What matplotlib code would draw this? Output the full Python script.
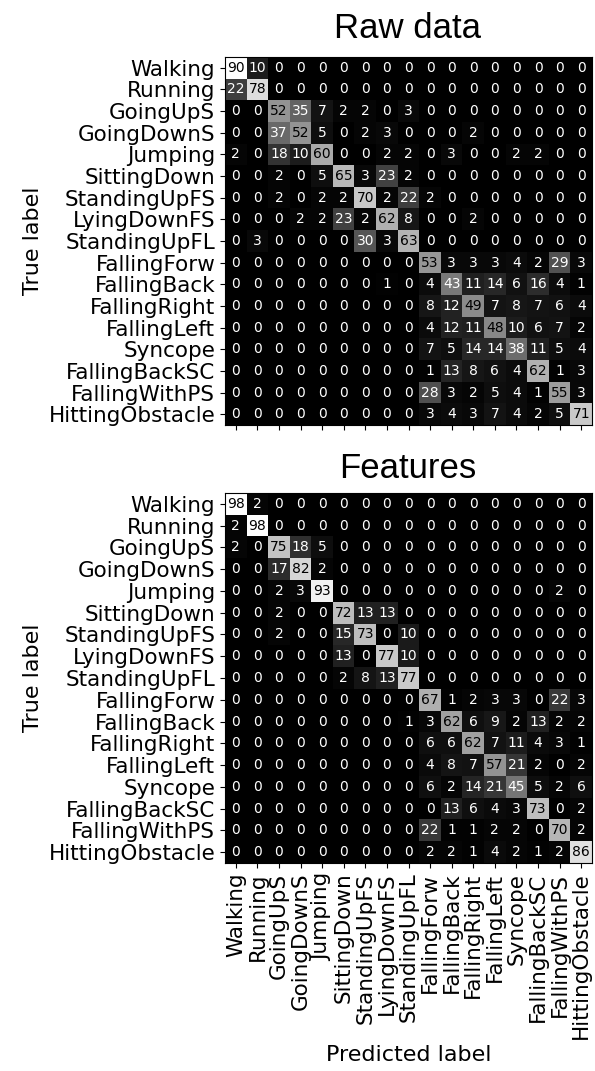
import matplotlib
matplotlib.use("Agg")
import matplotlib.pyplot as plt
import numpy as np

labels = ["Walking", "Running", "GoingUpS", "GoingDownS", "Jumping",
          "SittingDown", "StandingUpFS", "LyingDownFS", "StandingUpFL",
          "FallingForw", "FallingBack", "FallingRight", "FallingLeft",
          "Syncope", "FallingBackSC", "FallingWithPS", "HittingObstacle"]

# matriz de confusion con datos crudos (porcentajes)
raw_data = [
    [90, 10, 0, 0, 0, 0, 0, 0, 0, 0, 0, 0, 0, 0, 0, 0, 0],
    [22, 78, 0, 0, 0, 0, 0, 0, 0, 0, 0, 0, 0, 0, 0, 0, 0],
    [0, 0, 52, 35, 7, 2, 2, 0, 3, 0, 0, 0, 0, 0, 0, 0, 0],
    [0, 0, 37, 52, 5, 0, 2, 3, 0, 0, 0, 2, 0, 0, 0, 0, 0],
    [2, 0, 18, 10, 60, 0, 0, 2, 2, 0, 3, 0, 0, 2, 2, 0, 0],
    [0, 0, 2, 0, 5, 65, 3, 23, 2, 0, 0, 0, 0, 0, 0, 0, 0],
    [0, 0, 2, 0, 2, 2, 70, 2, 22, 2, 0, 0, 0, 0, 0, 0, 0],
    [0, 0, 0, 2, 2, 23, 2, 62, 8, 0, 0, 2, 0, 0, 0, 0, 0],
    [0, 3, 0, 0, 0, 0, 30, 3, 63, 0, 0, 0, 0, 0, 0, 0, 0],
    [0, 0, 0, 0, 0, 0, 0, 0, 0, 53, 3, 3, 3, 4, 2, 29, 3],
    [0, 0, 0, 0, 0, 0, 0, 1, 0, 4, 43, 11, 14, 6, 16, 4, 1],
    [0, 0, 0, 0, 0, 0, 0, 0, 0, 8, 12, 49, 7, 8, 7, 6, 4],
    [0, 0, 0, 0, 0, 0, 0, 0, 0, 4, 12, 11, 48, 10, 6, 7, 2],
    [0, 0, 0, 0, 0, 0, 0, 0, 0, 7, 5, 14, 14, 38, 11, 5, 4],
    [0, 0, 0, 0, 0, 0, 0, 0, 0, 1, 13, 8, 6, 4, 62, 1, 3],
    [0, 0, 0, 0, 0, 0, 0, 0, 0, 28, 3, 2, 5, 4, 1, 55, 3],
    [0, 0, 0, 0, 0, 0, 0, 0, 0, 3, 4, 3, 7, 4, 2, 5, 71],
]

# matriz de confusion con caracteristicas
features = [
    [98, 2, 0, 0, 0, 0, 0, 0, 0, 0, 0, 0, 0, 0, 0, 0, 0],
    [2, 98, 0, 0, 0, 0, 0, 0, 0, 0, 0, 0, 0, 0, 0, 0, 0],
    [2, 0, 75, 18, 5, 0, 0, 0, 0, 0, 0, 0, 0, 0, 0, 0, 0],
    [0, 0, 17, 82, 2, 0, 0, 0, 0, 0, 0, 0, 0, 0, 0, 0, 0],
    [0, 0, 2, 3, 93, 0, 0, 0, 0, 0, 0, 0, 0, 0, 0, 2, 0],
    [0, 0, 2, 0, 0, 72, 13, 13, 0, 0, 0, 0, 0, 0, 0, 0, 0],
    [0, 0, 2, 0, 0, 15, 73, 0, 10, 0, 0, 0, 0, 0, 0, 0, 0],
    [0, 0, 0, 0, 0, 13, 0, 77, 10, 0, 0, 0, 0, 0, 0, 0, 0],
    [0, 0, 0, 0, 0, 2, 8, 13, 77, 0, 0, 0, 0, 0, 0, 0, 0],
    [0, 0, 0, 0, 0, 0, 0, 0, 0, 67, 1, 2, 3, 3, 0, 22, 3],
    [0, 0, 0, 0, 0, 0, 0, 0, 1, 3, 62, 6, 9, 2, 13, 2, 2],
    [0, 0, 0, 0, 0, 0, 0, 0, 0, 6, 6, 62, 7, 11, 4, 3, 1],
    [0, 0, 0, 0, 0, 0, 0, 0, 0, 4, 8, 7, 57, 21, 2, 0, 2],
    [0, 0, 0, 0, 0, 0, 0, 0, 0, 6, 2, 14, 21, 45, 5, 2, 6],
    [0, 0, 0, 0, 0, 0, 0, 0, 0, 0, 13, 6, 4, 3, 73, 0, 2],
    [0, 0, 0, 0, 0, 0, 0, 0, 0, 22, 1, 1, 2, 2, 0, 70, 2],
    [0, 0, 0, 0, 0, 0, 0, 0, 0, 2, 2, 1, 4, 2, 1, 2, 86],
]


def plot_cm(ax, cm, show_xlabels):
    cm = np.array(cm)
    cmap = plt.get_cmap("gray")
    ax.imshow(cm, cmap=cmap, interpolation="nearest", aspect="auto")
    thresh = (cm.max() + cm.min()) / 2.0
    for i in range(cm.shape[0]):
        for j in range(cm.shape[1]):
            color = cmap(0.0) if cm[i, j] >= thresh else cmap(1.0)
            ax.text(j, i, str(cm[i, j]), ha="center", va="center",
                    color=color, fontsize=10)
    n = len(labels)
    ax.set_xticks(np.arange(n))
    ax.set_yticks(np.arange(n))
    ax.set_yticklabels(labels, fontsize=15.5)
    if show_xlabels:
        ax.set_xticklabels(labels, fontsize=15.5, rotation=90)
        ax.set_xlabel("Predicted label", fontsize=16)
    else:
        ax.set_xticklabels([])
    ax.set_ylabel("True label", fontsize=16)


fig = plt.figure(figsize=(5.95, 10.71), dpi=100)
ax1 = fig.add_axes([225 / 595, 1 - 425 / 1071, 367 / 595, 368 / 1071])
ax2 = fig.add_axes([225 / 595, 1 - 863 / 1071, 367 / 595, 370 / 1071])

plot_cm(ax1, raw_data, False)
plot_cm(ax2, features, True)

fig.text(408 / 595, 1 - 29 / 1071, "Raw data", ha="center", va="center",
         fontsize=25, family="Liberation Sans")
fig.text(408 / 595, 1 - 469 / 1071, "Features", ha="center", va="center",
         fontsize=25, family="Liberation Sans")

fig.savefig("out.png", dpi=100)
